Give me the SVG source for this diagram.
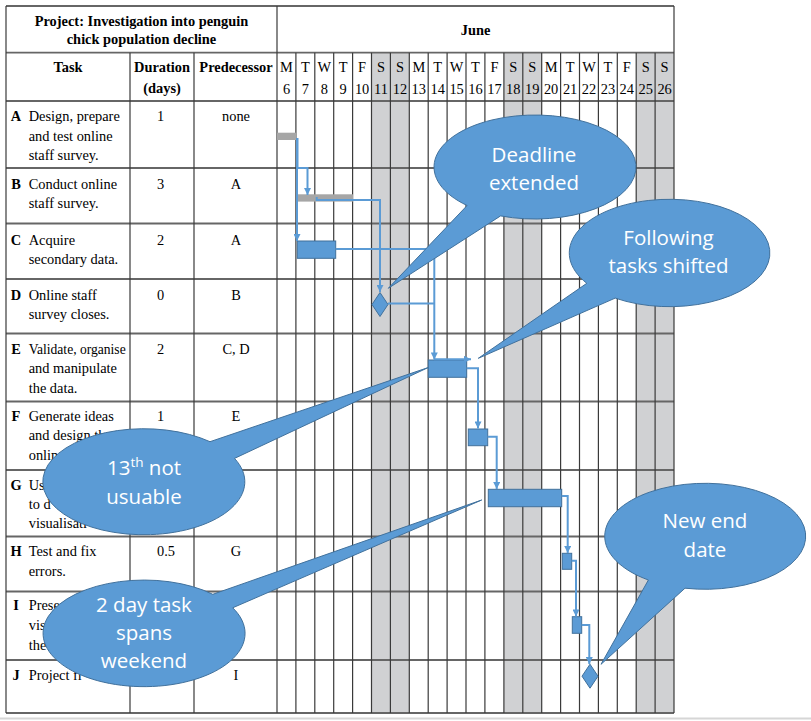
<svg xmlns="http://www.w3.org/2000/svg" width="811" height="721" viewBox="0 0 811 721">
<style>
.t{font-family:"Liberation Serif","Times New Roman",serif;font-size:14.4px;fill:#000}
.b{font-weight:bold}
.m{text-anchor:middle}
.hl{stroke:#666;stroke-width:1.8;fill:none}
.vl{stroke:#3a3a3a;stroke-width:1.2;fill:none}
.wk{fill:#d0d1d3}
.gbar{fill:#a6a6a6}
.bar{fill:#5b9bd5;stroke:#41719c;stroke-width:1}
.cn{stroke:#5b9bd5;stroke-width:2;fill:none}
.ca{stroke:#5b9bd5;stroke-width:2;fill:none;marker-end:url(#ah)}
.co{fill:#5b9bd5;stroke:#41719c;stroke-width:1}
.ct{font-family:"Open Sans","Noto Sans","Liberation Sans",sans-serif;font-size:20.5px;fill:#fff;text-anchor:middle}
</style>
<defs>
<marker id="ah" viewBox="0 0 10 10" refX="10" refY="5" markerWidth="8" markerHeight="7" markerUnits="userSpaceOnUse" orient="auto">
<path d="M0,0 L10,5 L0,10 z" fill="#5b9bd5"/>
</marker>
</defs>
<rect width="811" height="721" fill="#fff"/>
<line x1="0" y1="718.5" x2="811" y2="718.5" stroke="#d6d6d6" stroke-width="2"/>

<g id="grid">
<rect class="wk" x="371.5" y="52.7" width="37.8" height="660.3"/>
<rect class="wk" x="503.9" y="52.7" width="37.8" height="660.3"/>
<rect class="wk" x="636.2" y="52.7" width="37.8" height="660.3"/>
<g class="hl">
<line x1="6" y1="6" x2="674" y2="6"/>
<line x1="6" y1="52.7" x2="674" y2="52.7"/>
<line x1="6" y1="101" x2="674" y2="101"/>
<line x1="6" y1="168" x2="674" y2="168"/>
<line x1="6" y1="223.5" x2="674" y2="223.5"/>
<line x1="6" y1="279" x2="674" y2="279"/>
<line x1="6" y1="333.5" x2="674" y2="333.5"/>
<line x1="6" y1="401.5" x2="674" y2="401.5"/>
<line x1="6" y1="470" x2="674" y2="470"/>
<line x1="6" y1="536.5" x2="674" y2="536.5"/>
<line x1="6" y1="591.5" x2="674" y2="591.5"/>
<line x1="6" y1="660" x2="674" y2="660"/>
<line x1="6" y1="713" x2="674" y2="713"/>
</g>
<g class="vl">
<line x1="6" y1="6" x2="6" y2="713"/>
<line x1="130" y1="52.7" x2="130" y2="713"/>
<line x1="194" y1="52.7" x2="194" y2="713"/>
<line x1="277" y1="6" x2="277" y2="713"/>
<line x1="295.9" y1="52.7" x2="295.9" y2="713"/>
<line x1="314.8" y1="52.7" x2="314.8" y2="713"/>
<line x1="333.7" y1="52.7" x2="333.7" y2="713"/>
<line x1="352.6" y1="52.7" x2="352.6" y2="713"/>
<line x1="371.5" y1="52.7" x2="371.5" y2="713"/>
<line x1="390.4" y1="52.7" x2="390.4" y2="713"/>
<line x1="409.3" y1="52.7" x2="409.3" y2="713"/>
<line x1="428.2" y1="52.7" x2="428.2" y2="713"/>
<line x1="447.1" y1="52.7" x2="447.1" y2="713"/>
<line x1="466" y1="52.7" x2="466" y2="713"/>
<line x1="484.9" y1="52.7" x2="484.9" y2="713"/>
<line x1="503.9" y1="52.7" x2="503.9" y2="713"/>
<line x1="522.8" y1="52.7" x2="522.8" y2="713"/>
<line x1="541.7" y1="52.7" x2="541.7" y2="713"/>
<line x1="560.6" y1="52.7" x2="560.6" y2="713"/>
<line x1="579.5" y1="52.7" x2="579.5" y2="713"/>
<line x1="598.4" y1="52.7" x2="598.4" y2="713"/>
<line x1="617.3" y1="52.7" x2="617.3" y2="713"/>
<line x1="636.2" y1="52.7" x2="636.2" y2="713"/>
<line x1="655.1" y1="52.7" x2="655.1" y2="713"/>
<line x1="674" y1="6" x2="674" y2="713"/>
</g>
</g>

<g id="header">
<text class="t b m" x="141.5" y="26">Project: Investigation into penguin</text>
<text class="t b m" x="141.5" y="44">chick population decline</text>
<text class="t b m" x="475.5" y="34.5">June</text>
<text class="t b m" x="68" y="72">Task</text>
<text class="t b m" x="162" y="72">Duration</text>
<text class="t b m" x="162" y="93">(days)</text>
<text class="t b m" x="236" y="72">Predecessor</text>
<g class="t m">
<text x="286.5" y="72">M</text><text x="286.5" y="94">6</text>
<text x="305.4" y="72">T</text><text x="305.4" y="94">7</text>
<text x="324.3" y="72">W</text><text x="324.3" y="94">8</text>
<text x="343.2" y="72">T</text><text x="343.2" y="94">9</text>
<text x="362.1" y="72">F</text><text x="362.1" y="94">10</text>
<text x="381" y="72">S</text><text x="381" y="94">11</text>
<text x="399.9" y="72">S</text><text x="399.9" y="94">12</text>
<text x="418.8" y="72">M</text><text x="418.8" y="94">13</text>
<text x="437.7" y="72">T</text><text x="437.7" y="94">14</text>
<text x="456.6" y="72">W</text><text x="456.6" y="94">15</text>
<text x="475.5" y="72">T</text><text x="475.5" y="94">16</text>
<text x="494.4" y="72">F</text><text x="494.4" y="94">17</text>
<text x="513.3" y="72">S</text><text x="513.3" y="94">18</text>
<text x="532.2" y="72">S</text><text x="532.2" y="94">19</text>
<text x="551.1" y="72">M</text><text x="551.1" y="94">20</text>
<text x="570.1" y="72">T</text><text x="570.1" y="94">21</text>
<text x="589" y="72">W</text><text x="589" y="94">22</text>
<text x="607.9" y="72">T</text><text x="607.9" y="94">23</text>
<text x="626.8" y="72">F</text><text x="626.8" y="94">24</text>
<text x="645.7" y="72">S</text><text x="645.7" y="94">25</text>
<text x="664.6" y="72">S</text><text x="664.6" y="94">26</text>
</g>
</g>

<g id="row-A">
<text class="t b m" x="16" y="121">A</text>
<text class="t" x="28.7" y="121">Design, prepare</text>
<text class="t" x="28.7" y="140.5">and test online</text>
<text class="t" x="28.7" y="159.5">staff survey.</text>
<text class="t m" x="160.5" y="121">1</text>
<text class="t m" x="236" y="121">none</text>
</g>
<g id="row-B">
<text class="t b m" x="16" y="189">B</text>
<text class="t" x="28.7" y="189">Conduct online</text>
<text class="t" x="28.7" y="208.3">staff survey.</text>
<text class="t m" x="160.5" y="189">3</text>
<text class="t m" x="236" y="189">A</text>
</g>
<g id="row-C">
<text class="t b m" x="16" y="245">C</text>
<text class="t" x="28.7" y="245">Acquire</text>
<text class="t" x="28.7" y="263.5">secondary data.</text>
<text class="t m" x="160.5" y="245">2</text>
<text class="t m" x="236" y="245">A</text>
</g>
<g id="row-D">
<text class="t b m" x="16" y="299.5">D</text>
<text class="t" x="28.7" y="299.5">Online staff</text>
<text class="t" x="28.7" y="318.5">survey closes.</text>
<text class="t m" x="160.5" y="299.5">0</text>
<text class="t m" x="236" y="299.5">B</text>
</g>
<g id="row-E">
<text class="t b m" x="16" y="353.5">E</text>
<text class="t" x="28.7" y="353.5" textLength="97" lengthAdjust="spacingAndGlyphs">Validate, organise</text>
<text class="t" x="28.7" y="373">and manipulate</text>
<text class="t" x="28.7" y="392.5">the data.</text>
<text class="t m" x="160.5" y="353.5">2</text>
<text class="t m" x="236" y="353.5">C, D</text>
</g>
<g id="row-F">
<text class="t b m" x="16" y="421">F</text>
<text class="t" x="28.7" y="421">Generate ideas</text>
<text class="t" x="28.7" y="440">and design th</text>
<text class="t" x="28.7" y="459.5">onlin</text>
<text class="t m" x="160.5" y="421">1</text>
<text class="t m" x="236" y="421">E</text>
</g>
<g id="row-G">
<text class="t b m" x="16" y="490">G</text>
<text class="t" x="28.7" y="490">Us</text>
<text class="t" x="28.7" y="509">to d</text>
<text class="t" x="28.7" y="528.3">visualisati</text>
</g>
<g id="row-H">
<text class="t b m" x="16" y="556">H</text>
<text class="t" x="28.7" y="556">Test and fix</text>
<text class="t" x="28.7" y="575.5">errors.</text>
<text class="t m" x="166" y="556">0.5</text>
<text class="t m" x="236" y="556">G</text>
</g>
<g id="row-I">
<text class="t b m" x="16" y="610">I</text>
<text class="t" x="28.7" y="610">Prese</text>
<text class="t" x="28.7" y="629.5">vis</text>
<text class="t" x="28.7" y="649.5">the</text>
</g>
<g id="row-J">
<text class="t b m" x="16" y="680">J</text>
<text class="t" x="28.7" y="680">Project fi</text>
<text class="t m" x="236" y="680">I</text>
</g>

<g id="bars">
<rect id="bar-A" class="gbar" x="277" y="132.7" width="19.5" height="7.3"/>
<rect id="bar-B" class="gbar" x="297" y="194.3" width="56" height="7.3"/>
<rect id="bar-C" class="bar" x="297.3" y="241" width="38.4" height="17.3"/>
<polygon id="milestone-D" class="bar" points="380,292.5 388,304.5 380,316.5 372,304.5"/>
<rect id="bar-E" class="bar" x="428.3" y="360" width="38.4" height="17.3"/>
<rect id="bar-F" class="bar" x="468.3" y="429" width="19.4" height="16.7"/>
<rect id="bar-G" class="bar" x="488.3" y="489.3" width="73.4" height="17.4"/>
<rect id="bar-H" class="bar" x="562.3" y="553.3" width="9.4" height="16"/>
<rect id="bar-I" class="bar" x="572.3" y="616.7" width="9.4" height="16.6"/>
<polygon id="milestone-J" class="bar" points="590,664.2 598,676.2 590,688.2 582,676.2"/>
</g>

<g id="connectors">
<path class="ca" d="M297.5,138 V168 H307.5 V195"/>
<path class="ca" d="M297,138 V241"/>
<path class="ca" d="M316.7,197 V200 H380 V292"/>
<path class="ca" d="M335.7,249 H434.3 V359.5"/>
<path class="cn" d="M388,303.5 H434.3"/>
<path class="ca" d="M434,359.3 H471"/>
<path class="ca" d="M466.7,368.3 H478 V428.5"/>
<path class="ca" d="M487.7,436.7 H496.7 V489"/>
<path class="ca" d="M561.7,496 H567.7 V553"/>
<path class="ca" d="M571.7,560.7 H576 V616.5"/>
<path class="ca" d="M581.7,625 H589.3 V664"/>
</g>

<g id="callout-deadline">
<path class="co" d="M467.1,205.5 L388.3,288.3 L500.6,215.9 A101,52 0 1 0 467.1,205.5 Z"/>
<text class="ct" x="534" y="161.5">Deadline</text>
<text class="ct" x="534" y="190">extended</text>
</g>
<g id="callout-shifted">
<path class="co" d="M586.8,283.3 L478.3,358.3 L615.2,298.1 A100.3,53.7 0 1 0 586.8,283.3 Z"/>
<text class="ct" x="668.5" y="245">Following</text>
<text class="ct" x="668.5" y="273.3">tasks shifted</text>
</g>
<g id="callout-13th">
<path class="co" d="M210,441.7 L428.3,367.5 L234.5,458.4 A101,53 0 1 1 210,441.7 Z"/>
<text class="ct" x="144" y="475">13<tspan font-size="13.5" dy="-8">th</tspan><tspan dy="8"> not</tspan></text>
<text class="ct" x="144" y="503.5">usuable</text>
</g>
<g id="callout-weekend">
<path class="co" d="M212.8,594.3 L481.7,500 L232.7,607.8 A101,53.3 0 1 1 212.8,594.3 Z"/>
<text class="ct" x="144" y="611.7">2 day task</text>
<text class="ct" x="144" y="640">spans</text>
<text class="ct" x="144" y="668.3">weekend</text>
</g>
<g id="callout-end">
<path class="co" d="M648.4,580 L601,664.3 L685,588.2 A100.5,53 0 1 0 648.4,580 Z"/>
<text class="ct" x="705" y="528.3">New end</text>
<text class="ct" x="705" y="557.3">date</text>
</g>
</svg>
